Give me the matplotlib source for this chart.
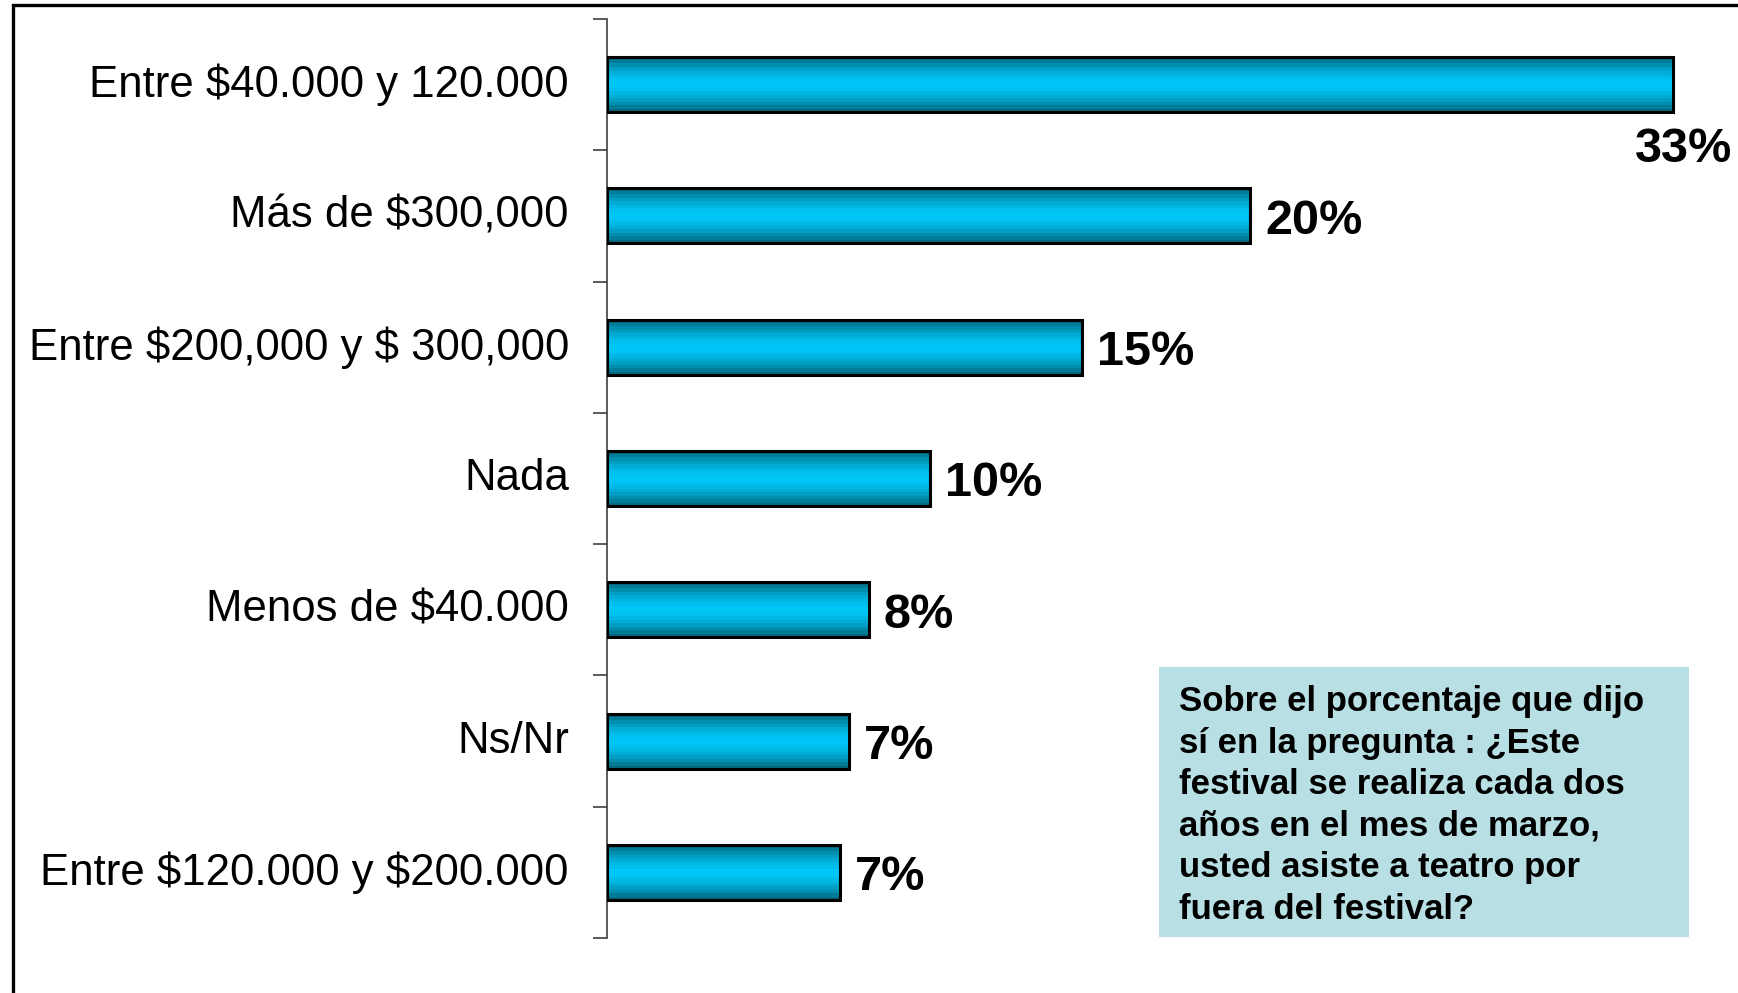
import numpy as np
import matplotlib
matplotlib.use("Agg")
import matplotlib.pyplot as plt
import matplotlib.transforms as mtransforms
from matplotlib.patches import Rectangle
from matplotlib.colors import to_rgb

plt.rcParams["font.family"] = ["Liberation Sans", "DejaVu Sans"]
plt.rcParams["text.parse_math"] = False

# data, top bar first
categories = [
    "Entre $40.000 y 120.000",
    "Más de $300,000",
    "Entre $200,000 y $ 300,000",
    "Nada",
    "Menos de $40.000",
    "Ns/Nr",
    "Entre $120.000 y $200.000",
]
values = [33.0, 19.9, 14.7, 10.0, 8.1, 7.5, 7.2]
value_labels = ["33%", "20%", "15%", "10%", "8%", "7%", "7%"]
note = ("Sobre el porcentaje que dijo\n"
        "sí en la pregunta : ¿Este\n"
        "festival se realiza cada dos\n"
        "años en el mes de marzo,\n"
        "usted asiste a teatro por\n"
        "fuera del festival?")

W, H = 1738, 993
fig = plt.figure(figsize=(W / 100, H / 100), dpi=100)
ax = fig.add_axes([607 / W, 1 - 938 / H, 1 - 607 / W, 919 / H])

n = len(categories)
ypos = np.arange(n)[::-1]
bar_h = 0.42

# banded cyan gradient, dark at top/bottom edge, bright in the middle
dark = np.array(to_rgb("#005f72"))
bright = np.array(to_rgb("#00c8fa"))
nb = 16
t = np.abs((np.arange(nb) + 0.5) / nb * 2 - 1)
w = t ** 1.6
grad = (bright[None, :] * (1 - w[:, None]) + dark[None, :] * w[:, None])[:, None, :]

for y, v in zip(ypos, values):
    ax.imshow(grad, extent=[0, v, y - bar_h / 2, y + bar_h / 2], aspect="auto",
              origin="lower", interpolation="nearest", zorder=2)
ax.barh(ypos, values, height=bar_h, facecolor="none", edgecolor="black",
        linewidth=2.2, zorder=3)

for i, (y, v, lab) in enumerate(zip(ypos, values, value_labels)):
    if i == 0:
        ax.annotate(lab, (v, y), xytext=(10, -77), textcoords="offset pixels",
                    ha="center", va="baseline", fontsize=35, fontweight="bold",
                    annotation_clip=False)
    else:
        ax.annotate(lab, (v, y), xytext=(15, -18), textcoords="offset pixels",
                    ha="left", va="baseline", fontsize=35, fontweight="bold",
                    annotation_clip=False)

ax.set_xlim(0, 35)
ax.set_ylim(-0.5, n - 0.5)
ax.set_yticks(ypos)
ax.set_yticklabels(categories, fontsize=31.5)
ax.set_yticks(np.arange(-0.5, n, 1), minor=True)
ax.tick_params(axis="y", which="major", length=0, pad=38 * 0.72)
ax.tick_params(axis="y", which="minor", length=14 * 0.72, width=1.2,
               color="#404040", direction="out")
ax.set_xticks([])
shift_up = mtransforms.ScaledTranslation(0, 4 / 100, fig.dpi_scale_trans)
for lbl in ax.get_yticklabels():
    lbl.set_transform(lbl.get_transform() + shift_up)
for side in ["top", "right", "bottom"]:
    ax.spines[side].set_visible(False)
ax.spines["left"].set_color("#404040")
ax.spines["left"].set_linewidth(1.2)
ax.patch.set_visible(False)

# note box
fig.patches.append(Rectangle((1159 / W, 1 - 937 / H), (1689 - 1159) / W,
                             (937 - 667) / H, transform=fig.transFigure,
                             facecolor="#b8dfe3", edgecolor="none", zorder=0))
fig.text(1179 / W, 1 - 685 / H, note, ha="left", va="top", fontsize=25,
         fontweight="bold", linespacing=1.33)

# outer frame, runs off the right and bottom of the picture
fig.patches.append(Rectangle((13 / W, -0.1), 1.2, 1.1 - 5 / H,
                             transform=fig.transFigure, facecolor="none",
                             edgecolor="black", linewidth=2.4, zorder=0))

fig.savefig("out.png", dpi=100)
